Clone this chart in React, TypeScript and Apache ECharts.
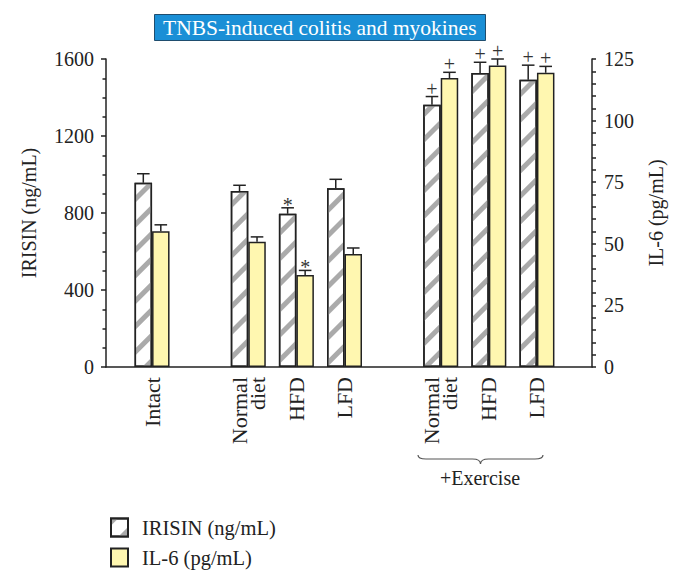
import React, { useEffect, useRef } from "react";
import * as echarts from "echarts";

const categories = ["Intact", "", "Normal\ndiet", "HFD", "LFD", "", "Normal\ndiet", "HFD", "LFD"];
const irisin = [957, null, 914, 796, 928, null, 1362, 1527, 1492];
const irisinErr = [47, null, 30, 31, 47, null, 43, 56, 76];
const il6 = [55.1, null, 50.8, 37.3, 45.9, null, 117.3, 122.4, 119.4];
const il6Err = [2.6, null, 2.0, 1.9, 2.4, null, 2.3, 2.6, 2.6];
const irisinMarks = ["", "", "", "*", "", "", "+", "+", "+"];
const il6Marks = ["", "", "", "*", "", "", "+", "+", "+"];
const leftTicks = [0, 400, 800, 1200, 1600];
const rightTicks = [0, 25, 50, 75, 100, 125];

const FONT = '"Liberation Serif"';
const BAR_W = 17.5;
const INK = "#222";

echarts.graphic.registerShape(
  "brace",
  echarts.graphic.extendPath(
    "M0,0 Q0,4 8,4 L54.5,4 Q62.5,4 62.5,9 Q62.5,4 70.5,4 L117,4 Q125,4 125,0",
    {}
  )
);

function errorSeries(
  name: string,
  values: (number | null)[],
  errs: (number | null)[],
  marks: string[],
  yAxisIndex: number,
  side: number
) {
  const data: number[][] = [];
  values.forEach((v, i) => {
    if (v != null) data.push([i, v, errs[i] as number]);
  });
  return {
    name,
    type: "custom",
    xAxisIndex: 1,
    yAxisIndex,
    silent: true,
    z: 5,
    data,
    renderItem: (params: any, api: any) => {
      const i = api.value(0);
      const v = api.value(1);
      const e = api.value(2);
      const base = api.coord([i, v]);
      const top = api.coord([i, v + e]);
      const x = base[0] + side * (BAR_W / 2);
      const mark = marks[i];
      const children: any[] = [
        { type: "line", shape: { x1: x, y1: base[1], x2: x, y2: top[1] }, style: { stroke: INK, lineWidth: 1.5 } },
        { type: "line", shape: { x1: x - 6.3, y1: top[1], x2: x + 6.3, y2: top[1] }, style: { stroke: INK, lineWidth: 1.5 } },
      ];
      if (mark) {
        children.push({
          type: "text",
          style: {
            text: mark,
            x,
            y: top[1] - (mark === "*" ? 3 : 8),
            align: "center",
            verticalAlign: "middle",
            font: `20px ${FONT}`,
            fill: "#333",
          },
        });
      }
      return { type: "group", children };
    },
  };
}

export default function App() {
  const ref = useRef<HTMLDivElement>(null);
  useEffect(() => {
    if (!ref.current) return;
    const chart = echarts.init(ref.current, undefined, { renderer: "svg" });
    const axisText = { color: INK, fontFamily: FONT, fontSize: 20 };
    const option: any = {
      animation: false,
      backgroundColor: "#fff",
      textStyle: { fontFamily: FONT },
      title: {
        text: "TNBS-induced colitis and myokines",
        left: 154,
        top: 14,
        padding: [3, 9, 2, 9],
        backgroundColor: "#1a8fd6",
        borderColor: "#1f4d6e",
        borderWidth: 1,
        textStyle: { color: "#fff", fontFamily: FONT, fontSize: 21.5, fontWeight: "normal" },
      },
      legend: {
        orient: "vertical",
        left: 105,
        top: 512,
        itemWidth: 17,
        itemHeight: 18,
        itemGap: 9,
        icon: "rect",
        data: ["IRISIN (ng/mL)", "IL-6 (pg/mL)"],
        textStyle: { color: INK, fontFamily: FONT, fontSize: 20.5, padding: [0, 0, 0, 9] },
      },
      grid: [
        { left: 106, right: 90, top: 59, bottom: 208 },
        { left: 128, right: 121, top: 59, bottom: 208 },
      ],
      xAxis: [
        {
          gridIndex: 0,
          type: "category",
          data: [""],
          axisLine: { show: true, lineStyle: { color: INK, width: 1.5 } },
          axisTick: { show: false },
          axisLabel: { show: false },
        },
        {
          gridIndex: 1,
          type: "category",
          data: categories,
          axisLine: { show: false },
          axisTick: { show: false },
          axisLabel: { ...axisText, fontSize: 22, rotate: 90, margin: 10, interval: 0, lineHeight: 18 },
        },
      ],
      yAxis: [
        {
          gridIndex: 0,
          type: "value",
          position: "left",
          min: leftTicks[0],
          max: leftTicks[leftTicks.length - 1],
          interval: 400,
          name: "IRISIN (ng/mL)",
          nameLocation: "middle",
          nameRotate: 90,
          nameGap: 67,
          nameTextStyle: axisText,
          axisLine: { show: true, lineStyle: { color: INK, width: 1.5 } },
          axisTick: { show: true, length: 5, lineStyle: { color: INK, width: 1.5 } },
          minorTick: { show: true, splitNumber: 4, length: 3.5, lineStyle: { color: INK, width: 1.5 } },
          axisLabel: { ...axisText, margin: 12, formatter: (v: number) => String(v) },
          splitLine: { show: false },
        },
        {
          gridIndex: 0,
          type: "value",
          position: "right",
          min: rightTicks[0],
          max: rightTicks[rightTicks.length - 1],
          interval: 25,
          axisLine: { show: true, lineStyle: { color: INK, width: 1.5 } },
          axisTick: { show: true, length: 4, lineStyle: { color: INK, width: 1.5 } },
          minorTick: { show: true, splitNumber: 5, length: 4, lineStyle: { color: INK, width: 1.5 } },
          axisLabel: { ...axisText, margin: 12, formatter: (v: number) => String(v) },
          splitLine: { show: false },
        },
        { gridIndex: 1, type: "value", min: 0, max: 1600, show: false, splitLine: { show: false } },
        { gridIndex: 1, type: "value", min: 0, max: 125, show: false, splitLine: { show: false } },
      ],
      series: [
        {
          name: "IRISIN (ng/mL)",
          type: "bar",
          xAxisIndex: 1,
          yAxisIndex: 2,
          barWidth: BAR_W,
          barGap: "0%",
          data: irisin,
          itemStyle: {
            color: "#ffffff",
            borderColor: INK,
            borderWidth: 1.5,
            decal: {
              symbol: "rect",
              symbolSize: 1,
              color: "#aaaaaa",
              dashArrayX: [1, 0],
              dashArrayY: [5, 13],
              rotation: -Math.PI / 4,
            },
          },
        },
        {
          name: "IL-6 (pg/mL)",
          type: "bar",
          xAxisIndex: 1,
          yAxisIndex: 3,
          barWidth: BAR_W,
          barGap: "0%",
          data: il6,
          itemStyle: { color: "#fff7b0", borderColor: INK, borderWidth: 1.5 },
        },
        errorSeries("irisin-err", irisin, irisinErr, irisinMarks, 2, -1),
        errorSeries("il6-err", il6, il6Err, il6Marks, 3, 1),
      ],
      graphic: [
        {
          type: "text",
          x: 656,
          y: 213,
          rotation: Math.PI / 2,
          style: {
            text: "IL-6 (pg/mL)",
            align: "center",
            verticalAlign: "middle",
            font: `20px ${FONT}`,
            fill: INK,
          },
        },
        {
          type: "brace",
          x: 418,
          y: 455,
          shape: {},
          style: { fill: "none", stroke: "#555", lineWidth: 1.2 },
        },
        {
          type: "text",
          x: 480,
          y: 478,
          style: {
            text: "+Exercise",
            align: "center",
            verticalAlign: "middle",
            font: `20px ${FONT}`,
            fill: INK,
          },
        },
      ],
    };
    chart.setOption(option);
    return () => chart.dispose();
  }, []);
  return (
    <div
      ref={ref}
      style={{ position: "absolute", left: 0, top: 0, width: 682, height: 575 }}
    />
  );
}
